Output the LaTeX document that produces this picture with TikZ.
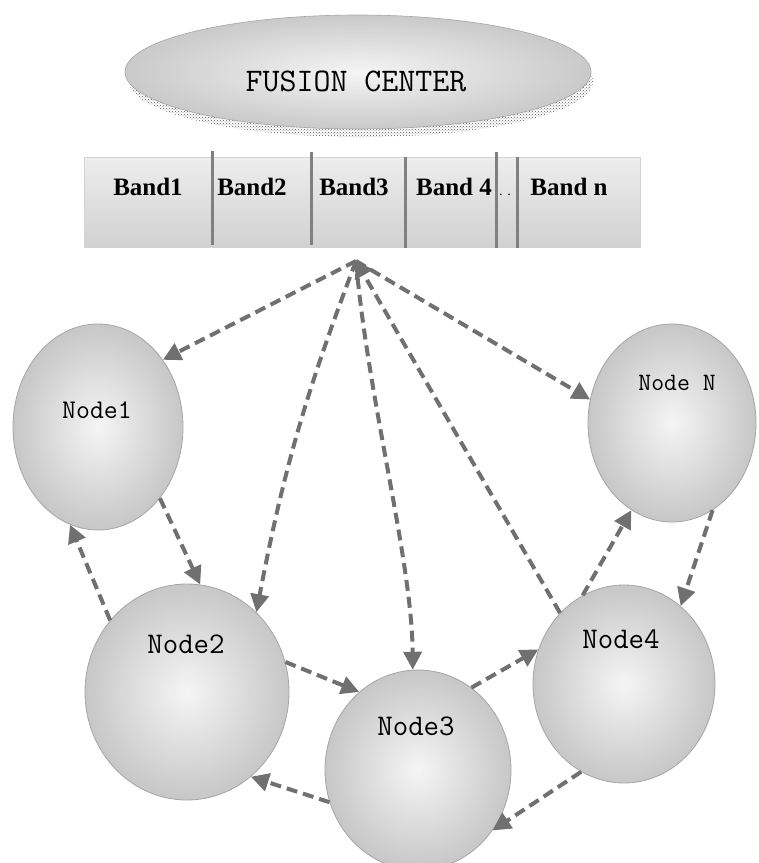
\documentclass[tikz,border=0pt]{standalone}
\usepackage{fontspec}
\newfontfamily\bandfont{Liberation Serif}
\usetikzlibrary{shapes.geometric,arrows.meta,patterns}
\definecolor{linkgray}{RGB}{112,112,112}
\definecolor{rimgray}{RGB}{165,165,165}
\definecolor{bargray}{RGB}{128,128,128}

\begin{document}
\begin{tikzpicture}[x=1pt,y=-1pt,
  peer/.style={ellipse, draw=rimgray, line width=0.8pt, inner sep=0pt,
    inner color=gray!8, outer color=gray!44},
  peertext/.style={font=\ttfamily\fontsize{30}{30}\selectfont, anchor=base, inner sep=0pt},
  bandtext/.style={font=\bandfont\bfseries\fontsize{25}{25}\selectfont, anchor=base, inner sep=0pt},
  divider/.style={draw=bargray, line width=3pt},
  link/.style={draw=linkgray, line width=4pt, dash pattern=on 11pt off 6pt,
    -{Triangle[length=18pt,width=18pt]}},
  uplink/.style={draw=linkgray, line width=4pt, dash pattern=on 11pt off 6pt,
    -{Triangle[length=16pt,width=20pt]}},
]
\useasboundingbox (0,0) rectangle (759,863);

% fusion center with its dotted drop shadow
\node[ellipse, minimum width=464pt, minimum height=112pt, inner sep=0pt,
      pattern=crosshatch dots, pattern color=black!65] (fcshadow) at (361,81) {};
\node[ellipse, minimum width=466pt, minimum height=114pt, inner sep=0pt,
      draw=rimgray, line width=0.6pt, inner color=gray!8, outer color=gray!42] (fc) at (358,72) {};
\node[font=\ttfamily\fontsize{33}{33}\selectfont, anchor=base, inner sep=0pt] (fct) at (356,91) {FUSION CENTER};

% frequency band strip
\node[rectangle, minimum width=556pt, minimum height=90pt, inner sep=0pt,
      draw=gray!35, line width=0.6pt, top color=gray!14, bottom color=gray!36] (bar) at (362,202) {};
\draw[divider] (212,151) -- (212,245);
\draw[divider] (311,152) -- (311,245);
\draw[divider] (405,157) -- (405,248);
\draw[divider] (496,152) -- (496,248);
\draw[divider] (517,157) -- (517,248);
\node[bandtext] (b1) at (148,195) {Band1};
\node[bandtext] (b2) at (252,195) {Band2};
\node[bandtext] (b3) at (354,195) {Band3};
\node[bandtext] (b4) at (454,195) {Band 4};
\node[font=\bandfont\fontsize{14}{14}\selectfont, anchor=base, inner sep=0pt] (bdots) at (505,195) {. .};
\node[bandtext] (bn) at (569,195) {Band n};

% sensing nodes
\node[peer, minimum width=170pt, minimum height=206pt] (n1) at (98,427) {};
\node[peer, minimum width=168pt, minimum height=198pt] (nN) at (672,423) {};
\node[peer, minimum width=204pt, minimum height=216pt] (n2) at (187,692) {};
\node[peer, minimum width=186pt, minimum height=200pt] (n3) at (418,770) {};
\node[peer, minimum width=182pt, minimum height=198pt] (n4) at (624,684) {};

\node[peertext, font=\ttfamily\fontsize{27}{27}\selectfont] (n1t) at (97,418) {Node1};
\node[peertext, font=\ttfamily\fontsize{25}{25}\selectfont] (nNt) at (677,390) {Node N};
\node[peertext] (n2t) at (186,653) {Node2};
\node[peertext] (n3t) at (416,735) {Node3};
\node[peertext] (n4t) at (621,648) {Node4};

% links between the fusion center and the nodes
\coordinate (hub) at (356,261);
\draw[link] (hub) -- (n1.46);
\draw[link] (hub) to[bend right=5] (n2.49);
\draw[link] (hub) .. controls (368,400) and (412,560) .. (n3.93);
\draw[uplink] (n4.132) -- (hub);
\draw[link] (hub) -- (nN.164);

% links between neighbouring nodes
\draw[link] (n1.-49.5) -- (n2.83);
\draw[link] (n2.137) -- (n1.-106);
\draw[link] (n2.17.6) -- (n3.127);
\draw[link] (n3.-160) -- (n2.-53.8);
\draw[link] (n3.57.6) -- (n4.158);
\draw[link] (n4.-116) -- (n3.-39);
\draw[link] (n4.115) -- (nN.-115);
\draw[link] (nN.-65) -- (n4.54);
\end{tikzpicture}
\end{document}
